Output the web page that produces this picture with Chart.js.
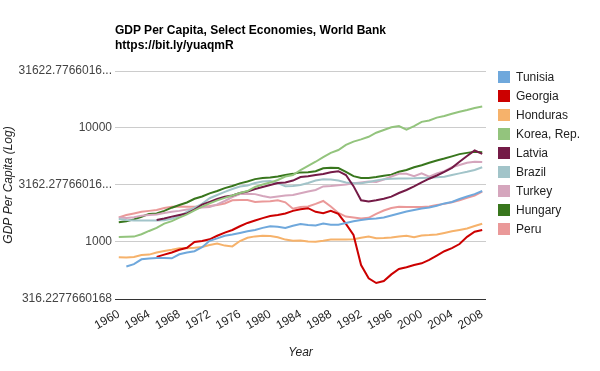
<!DOCTYPE html>
<html>
<head>
<meta charset="utf-8">
<script src="https://cdn.jsdelivr.net/npm/chart.js@4.4.0/dist/chart.umd.min.js"></script>
<style>
    body { margin: 0; background: #fff; font-family: "Liberation Sans", Arial, sans-serif; }
    #wrap { position: relative; width: 600px; height: 371px; }
    #titulo { position: absolute; left: 115px; top: 23px; font-size: 12px; font-weight: bold; line-height: 15px; color: #000; white-space: nowrap; }
    #legenda { position: absolute; left: 498px; top: 67px; font-size: 12px; color: #222; }
    .item { height: 19px; display: flex; align-items: center; white-space: nowrap; }
    .caixa { width: 12px; height: 12px; margin-right: 6px; }
</style>
</head>
<body>
<div id="wrap">
    <canvas id="grafico" width="600" height="371"></canvas>
    <div id="titulo">GDP Per Capita, Select Economies, World Bank<br>https://bit.ly/yuaqmR</div>
    <div id="legenda"></div>
</div>
<script>
const years = [
    1960, 1961, 1962, 1963, 1964, 1965, 1966, 1967, 1968, 1969,
    1970, 1971, 1972, 1973, 1974, 1975, 1976, 1977, 1978, 1979,
    1980, 1981, 1982, 1983, 1984, 1985, 1986, 1987, 1988, 1989,
    1990, 1991, 1992, 1993, 1994, 1995, 1996, 1997, 1998, 1999,
    2000, 2001, 2002, 2003, 2004, 2005, 2006, 2007, 2008
];

const tunisia = [
    null, 610, 640, 705, 715, 725, 725, 720, 780, 810,
    830, 900, 1025, 1075, 1135, 1165, 1200, 1240, 1275, 1330,
    1375, 1360, 1325, 1390, 1435, 1410, 1395, 1450, 1420, 1420,
    1465, 1520, 1560, 1590, 1610, 1640, 1710, 1780, 1850, 1910,
    1970, 2010, 2080, 2180, 2245, 2385, 2510, 2630, 2800
];
const georgia = [
    null, null, null, null, null, 740, 775, 810, 855, 890,
    1000, 1020, 1055, 1135, 1210, 1275, 1375, 1470, 1545, 1620,
    1690, 1725, 1780, 1875, 1940, 1980, 1840, 1790, 1875, 1765,
    1440, 1152, 628, 480, 437, 455, 520, 580, 600, 628,
    650, 696, 760, 830, 885, 960, 1110, 1230, 1275
];
const honduras = [
    735, 730, 740, 770, 775, 810, 835, 855, 880, 880,
    890, 905, 940, 970, 930, 915, 1020, 1090, 1120, 1135,
    1130, 1100, 1050, 1025, 1030, 1010, 1005, 1025, 1050, 1050,
    1050, 1055, 1090, 1115, 1080, 1085, 1095, 1120, 1135, 1100,
    1140, 1150, 1165, 1200, 1240, 1275, 1315, 1380, 1445
];
const korea = [
    1105, 1110, 1115, 1170, 1250, 1330, 1450, 1525, 1635, 1745,
    1890, 2040, 2180, 2320, 2440, 2560, 2690, 2800, 3040, 3190,
    3320, 3500, 3750, 3870, 4280, 4650, 5060, 5560, 6060, 6410,
    7100, 7600, 7950, 8370, 9090, 9600, 10150, 10400, 9660, 10400,
    11320, 11650, 12340, 12750, 13350, 13900, 14400, 15000, 15450
];
const latvia = [
    null, null, null, null, null, 1560, 1610, 1670, 1725, 1780,
    1925, 2125, 2245, 2380, 2490, 2560, 2690, 2770, 2920, 3040,
    3160, 3290, 3330, 3460, 3710, 3780, 3870, 3950, 4090, 4180,
    3870, 3090, 2320, 2270, 2320, 2400, 2500, 2690, 2860, 3070,
    3330, 3590, 3830, 4130, 4470, 5060, 5680, 6350, 5920
];
const brazil = [
    1590, 1560, 1545, 1540, 1540, 1540, 1550, 1600, 1690, 1840,
    2000, 2160, 2420, 2585, 2750, 2920, 3065, 3130, 3290, 3390,
    3420, 3290, 3080, 3100, 3160, 3290, 3460, 3550, 3540, 3460,
    3330, 3290, 3270, 3360, 3460, 3560, 3590, 3610, 3610, 3620,
    3650, 3670, 3700, 3740, 3870, 4000, 4130, 4280, 4530
];
const turkey = [
    1640, 1620, 1650, 1700, 1725, 1745, 1800, 1840, 1875, 1925,
    1960, 2010, 2030, 2140, 2290, 2480, 2630, 2650, 2630, 2535,
    2460, 2510, 2560, 2585, 2680, 2770, 2860, 3070, 3100, 3150,
    3200, 3270, 3330, 3390, 3360, 3530, 3750, 3960, 3960, 3780,
    4000, 3740, 4000, 4180, 4530, 4735, 4960, 5060, 5030
];
const hungary = [
    1490, 1520, 1580, 1665, 1765, 1780, 1875, 2000, 2110, 2220,
    2395, 2510, 2670, 2800, 2970, 3100, 3270, 3390, 3560, 3650,
    3680, 3760, 3870, 3960, 4080, 4100, 4170, 4430, 4490, 4450,
    4130, 3780, 3650, 3650, 3720, 3820, 3900, 4130, 4280, 4530,
    4720, 4960, 5190, 5400, 5640, 5900, 6050, 6200, 6140
];
const peru = [
    1640, 1725, 1780, 1840, 1875, 1910, 1990, 2040, 2050, 2040,
    2040, 2055, 2065, 2110, 2180, 2320, 2335, 2335, 2245, 2265,
    2275, 2320, 2230, 1960, 2030, 2050, 2160, 2290, 2050, 1800,
    1670, 1640, 1610, 1630, 1765, 1890, 1990, 2040, 2030, 2030,
    2030, 2050, 2110, 2160, 2230, 2320, 2440, 2560, 2770
];

const seriesNames = ['Tunisia', 'Georgia', 'Honduras', 'Korea, Rep.', 'Latvia', 'Brazil', 'Turkey', 'Hungary', 'Peru'];
const seriesData = [tunisia, georgia, honduras, korea, latvia, brazil, turkey, hungary, peru];
const seriesColors = ['#6fa8dc', '#cc0000', '#f6b26b', '#93c47d', '#741b47', '#a2c4c9', '#d5a6bd', '#38761d', '#ea9999'];

// log axis ticks, as google charts printed them
const yTicks = [316.2277660168, 1000, 3162.2776601684, 10000, 31622.7766016838];
const yTickLabels = ['316.2277660168', '1000', '3162.27766016...', '10000', '31622.7766016...'];

const fonte = "'Liberation Sans', Arial, sans-serif";

var datasets = [];
for (let i = 0; i < seriesNames.length; i++) {
    datasets.push({
        label: seriesNames[i],
        data: seriesData[i],
        borderColor: seriesColors[i],
        backgroundColor: seriesColors[i],
        borderWidth: 2,
        pointRadius: 0,
        tension: 0,
        fill: false
    });
}

new Chart(document.getElementById('grafico'), {
    type: 'line',
    data: { labels: years, datasets: datasets },
    options: {
        responsive: false,
        animation: false,
        layout: { padding: { left: 0, right: 114, top: 71, bottom: 0 } },
        plugins: {
            legend: { display: false },
            tooltip: { enabled: false }
        },
        scales: {
            x: {
                type: 'category',
                offset: true,
                grid: { display: false },
                border: { display: false },
                ticks: {
                    autoSkip: false,
                    minRotation: 30,
                    maxRotation: 30,
                    padding: 0,
                    color: '#222',
                    font: { family: fonte, size: 12 },
                    callback: function (value, index) {
                        var ano = years[index];
                        return (ano - 1960) % 4 == 0 ? String(ano) : '';
                    }
                },
                title: {
                    display: true,
                    text: 'Year',
                    color: '#222',
                    font: { family: fonte, size: 12, style: 'italic' },
                    padding: { top: 0, bottom: 11 }
                },
                afterFit: function (scale) { scale.height = 72; }
            },
            y: {
                type: 'logarithmic',
                min: yTicks[0],
                max: yTicks[yTicks.length - 1],
                afterBuildTicks: function (scale) {
                    scale.ticks = yTicks.map(v => ({ value: v }));
                },
                grid: {
                    drawTicks: false,
                    color: function (ctx) { return ctx.index === 0 ? '#333333' : '#cccccc'; }
                },
                border: { display: false },
                ticks: {
                    padding: 3,
                    color: '#444',
                    font: { family: fonte, size: 12 },
                    callback: function (value, index) { return yTickLabels[index]; }
                },
                title: {
                    display: true,
                    text: 'GDP Per Capita (Log)',
                    color: '#222',
                    font: { family: fonte, size: 12, style: 'italic' },
                    padding: { top: 1, bottom: 0 }
                },
                afterFit: function (scale) { scale.width = 115; }
            }
        }
    }
});

// legenda em html, um quadrado por serie
var legenda = document.getElementById('legenda');
for (let i = 0; i < seriesNames.length; i++) {
    legenda.innerHTML += `
    <div class="item">
        <div class="caixa" style="background:${seriesColors[i]}"></div>
        <span>${seriesNames[i]}</span>
    </div>
    `;
}
</script>
</body>
</html>
